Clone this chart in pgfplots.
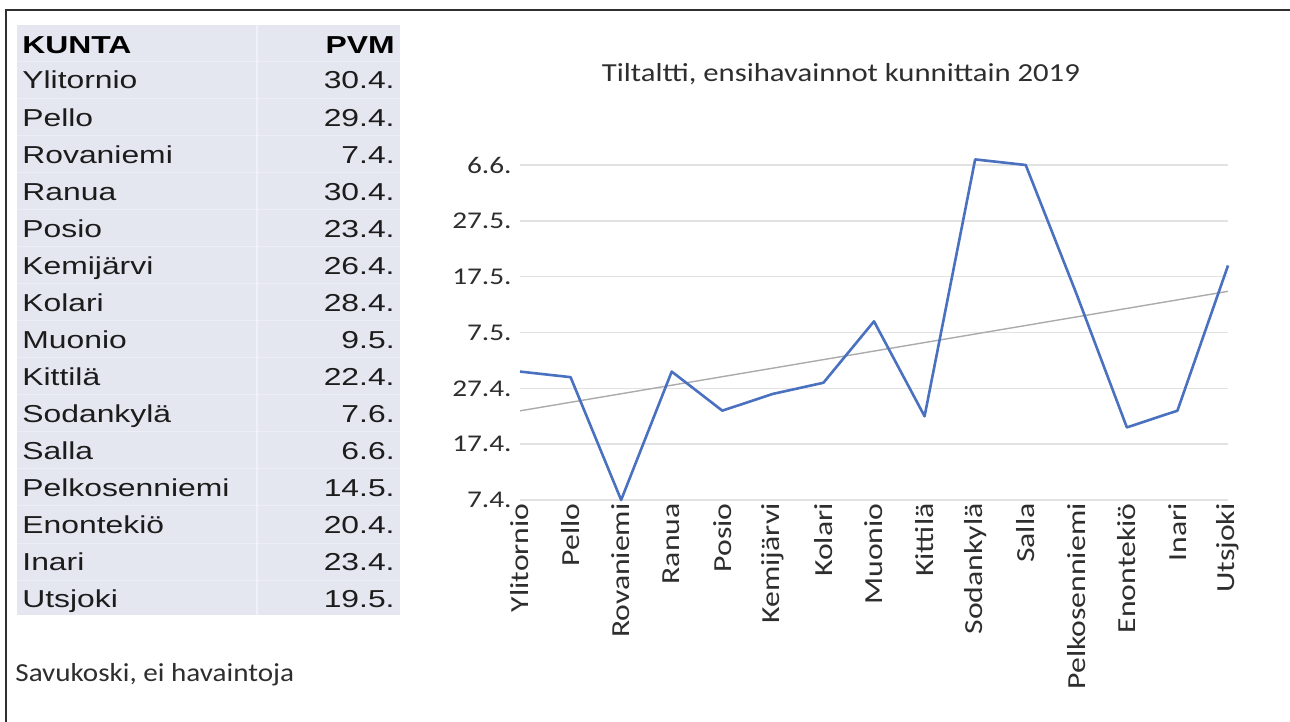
\documentclass[border=0pt]{standalone}
\usepackage{pgfplots}
\pgfplotsset{compat=1.18}
\usepackage{fontspec}
\setmainfont{Liberation Sans}
\newfontfamily\tablefont[FakeStretch=1.3]{Liberation Sans}
\newfontfamily\titlefont[FakeStretch=1.18]{Carlito}
\newfontfamily\tickfont[FakeStretch=1.22]{Carlito}
\newfontfamily\notefont[FakeStretch=1.12]{Carlito}
\definecolor{framecol}{HTML}{303030}
\definecolor{tablebg}{HTML}{E5E7F0}
\definecolor{tabtext}{HTML}{1C1C1C}
\definecolor{charttext}{HTML}{2E2E2E}
\definecolor{gridgray}{HTML}{E2E2E2}
\definecolor{lineblue}{HTML}{4A70C0}
\definecolor{trendgray}{HTML}{ABABAB}

\begin{document}
\begin{tikzpicture}
\useasboundingbox (0,0) rectangle (645pt,361pt);
\fill[white] (0,0) rectangle (645pt,361pt);
% frame (top and left edges only, the rest is cut off)
\draw[framecol, line width=1pt] (3pt,0pt) -- (3pt,356pt) -- (645pt,356pt);

% table on the left
\fill[tablebg] (8.5pt,53.5pt) rectangle (200pt,348.5pt);
\draw[white, line width=1pt, opacity=0.45] (128.5pt,53.5pt) -- (128.5pt,348.5pt);
\foreach \k in {0,...,15}
  \draw[white, line width=0.4pt, opacity=0.3] (8.5pt,{330.5pt-18.535pt*\k}) -- (200pt,{330.5pt-18.535pt*\k});
\node[anchor=base west, inner sep=0pt, text=black] at (11pt,334pt)
  {\tablefont\fontsize{12.25pt}{14pt}\selectfont\bfseries KUNTA};
\node[anchor=base east, inner sep=0pt, text=black] at (197.5pt,334pt)
  {\tablefont\fontsize{12.25pt}{14pt}\selectfont\bfseries PVM};
\foreach \n/\d [count=\i from 0] in {Ylitornio/30.4., Pello/29.4., Rovaniemi/7.4., Ranua/30.4.,
    Posio/23.4., Kemijärvi/26.4., Kolari/28.4., Muonio/9.5., Kittilä/22.4., Sodankylä/7.6.,
    Salla/6.6., Pelkosenniemi/14.5., Enontekiö/20.4., Inari/23.4., Utsjoki/19.5.} {
  \node[anchor=base west, inner sep=0pt, text=tabtext] at (11pt,{316.5pt-18.535pt*\i})
    {\tablefont\fontsize{12.25pt}{14pt}\selectfont \n};
  \node[anchor=base east, inner sep=0pt, text=tabtext] at (197.5pt,{316.5pt-18.535pt*\i})
    {\tablefont\fontsize{12.25pt}{14pt}\selectfont \d};
}
\node[anchor=base west, inner sep=0pt, text=charttext] at (7.5pt,20pt)
  {\notefont\fontsize{13pt}{15pt}\selectfont Savukoski, ei havaintoja};

% chart title
\node[anchor=base, inner sep=0pt, text=charttext] at (420.5pt,320pt)
  {\titlefont\fontsize{13pt}{15pt}\selectfont Tiltaltti, ensihavainnot kunnittain 2019};

\begin{axis}[
  at={(260pt,111pt)}, anchor=south west,
  scale only axis, width=354pt, height=167.5pt,
  xmin=1, xmax=15, ymin=97, ymax=157,
  xtick={1,...,15},
  xticklabels={Ylitornio,Pello,Rovaniemi,Ranua,Posio,Kemijärvi,Kolari,Muonio,
    Kittilä,Sodankylä,Salla,Pelkosenniemi,Enontekiö,Inari,Utsjoki},
  ytick={97,107,117,127,137,147,157},
  yticklabels={7.4.,17.4.,27.4.,7.5.,17.5.,27.5.,6.6.},
  ymajorgrids, grid style={color=gridgray, line width=0.7pt},
  axis line style={draw=none}, tick style={draw=none},
  xticklabel style={rotate=90, anchor=east, inner sep=0pt, text=charttext,
    font=\tickfont\fontsize{13pt}{15pt}\selectfont},
  yticklabel style={anchor=east, inner sep=0pt, text=charttext,
    font=\tickfont\fontsize{12pt}{14pt}\selectfont},
  xticklabel shift=1.5pt, yticklabel shift=4pt,
  clip=false,
]
% linear trend line (end points)
\addplot[trendgray, line width=0.7pt] coordinates {(1,112.97) (15,134.37)};
% first sighting, day of year 2019
\addplot[lineblue, line width=1.3pt, line join=round] coordinates {
  (1,120) (2,119) (3,97) (4,120) (5,113) (6,116) (7,118) (8,129)
  (9,112) (10,158) (11,157) (12,134) (13,110) (14,113) (15,139)
};
\end{axis}
\end{tikzpicture}
\end{document}
